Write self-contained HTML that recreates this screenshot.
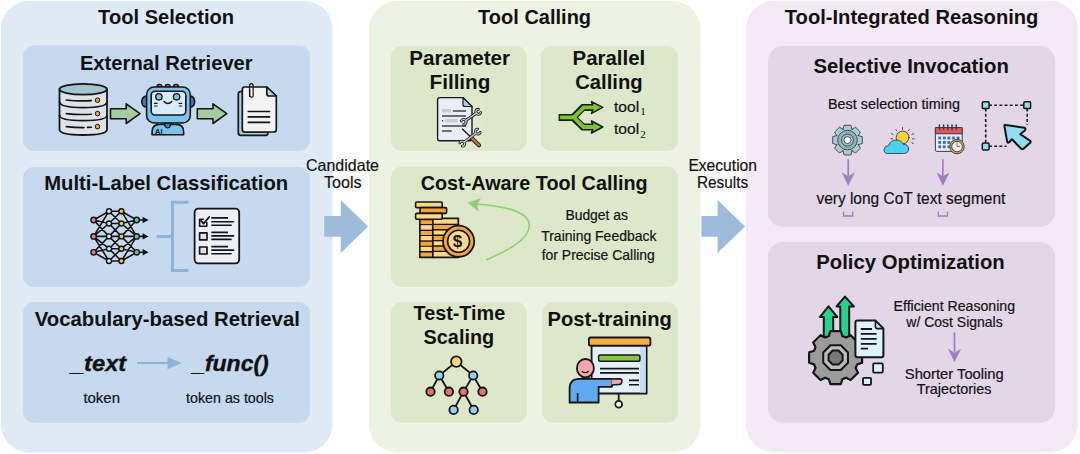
<!DOCTYPE html>
<html><head><meta charset="utf-8">
<style>
html,body{margin:0;padding:0;background:#fff;width:1080px;height:454px;overflow:hidden}
svg{display:block}
text{font-family:"Liberation Sans",sans-serif;fill:#111}
.b{font-weight:bold}
.t1{font-size:20px;font-weight:bold}
.t2{font-size:20.5px;font-weight:bold}
.r{font-size:15px;stroke:#1a1a1a;stroke-width:0.2px}
</style></head><body>
<svg width="1080" height="454" viewBox="0 0 1080 454">
<!-- panels -->
<rect x="1" y="1" width="331.5" height="451.5" rx="28" fill="#e0eaf5"/>
<rect x="369" y="1" width="331.5" height="451.5" rx="28" fill="#eef2e4"/>
<rect x="746" y="1" width="332" height="451.5" rx="28" fill="#f3e9f5"/>
<!-- blue inner -->
<rect x="23" y="45.6" width="287" height="105.4" rx="11" fill="#c6d9ef"/>
<rect x="23" y="167" width="287" height="120" rx="11" fill="#c6d9ef"/>
<rect x="23" y="302" width="287" height="120.8" rx="11" fill="#c6d9ef"/>
<!-- green inner -->
<rect x="391" y="46" width="136" height="105" rx="11" fill="#dce8c9"/>
<rect x="540.7" y="46" width="137.3" height="105" rx="11" fill="#dce8c9"/>
<rect x="391" y="166.7" width="287" height="120.3" rx="11" fill="#dce8c9"/>
<rect x="391" y="302" width="136" height="120.8" rx="11" fill="#dce8c9"/>
<rect x="542.3" y="302" width="135.7" height="120.8" rx="11" fill="#dce8c9"/>
<!-- purple inner -->
<rect x="768" y="46" width="287" height="180.8" rx="15" fill="#e2d6e7"/>
<rect x="768" y="242" width="287" height="180.8" rx="15" fill="#e2d6e7"/>

<!-- big arrows -->
<path d="M324.2 215.9 H340.8 V200 L368.1 226.5 L340.8 252.9 V236.7 H324.2 Z" fill="#9dbcdc"/>
<path d="M701.4 215.9 H717.6 V200 L745 226.5 L717.6 252.9 V236.7 H701.4 Z" fill="#9dbcdc"/>

<!-- titles -->
<text class="t1" x="98.1" y="24" textLength="136.0" lengthAdjust="spacingAndGlyphs">Tool Selection</text>
<text class="t1" x="478.1" y="24.2" textLength="113.0" lengthAdjust="spacingAndGlyphs">Tool Calling</text>
<text class="t1" x="784.8" y="23.6" textLength="253.6" lengthAdjust="spacingAndGlyphs">Tool-Integrated Reasoning</text>

<text class="t2" x="79.9" y="69.8" textLength="172.8" lengthAdjust="spacingAndGlyphs">External Retriever</text>
<text class="t2" x="44.2" y="190" textLength="244.0" lengthAdjust="spacingAndGlyphs">Multi-Label Classification</text>
<text class="t2" x="34.7" y="325.7" textLength="265.2" lengthAdjust="spacingAndGlyphs">Vocabulary-based Retrieval</text>

<text class="t2" x="409.2" y="65" textLength="100.9" lengthAdjust="spacingAndGlyphs">Parameter</text>
<text class="t2" x="429.5" y="89.4" textLength="60.9" lengthAdjust="spacingAndGlyphs">Filling</text>
<text class="t2" x="572.5" y="65" textLength="72.7" lengthAdjust="spacingAndGlyphs">Parallel</text>
<text class="t2" x="575.2" y="89.4" textLength="67.4" lengthAdjust="spacingAndGlyphs">Calling</text>
<text class="t2" x="420.7" y="189.8" textLength="226.9" lengthAdjust="spacingAndGlyphs">Cost-Aware Tool Calling</text>
<text class="t2" x="413.5" y="320" textLength="91.7" lengthAdjust="spacingAndGlyphs">Test-Time</text>
<text class="t2" x="423.6" y="344.4" textLength="70.6" lengthAdjust="spacingAndGlyphs">Scaling</text>
<text class="t2" x="547.5" y="325.8" textLength="124.3" lengthAdjust="spacingAndGlyphs">Post-training</text>

<text class="t2" x="813.5" y="72.5" textLength="195.3" lengthAdjust="spacingAndGlyphs">Selective Invocation</text>
<text class="t2" x="816.2" y="269.2" textLength="188.6" lengthAdjust="spacingAndGlyphs">Policy Optimization</text>

<!-- regular text -->
<text class="r" x="306.0" y="170.6" style="font-size:16.5px" textLength="73.0" lengthAdjust="spacingAndGlyphs">Candidate</text>
<text class="r" x="324.0" y="188.3" style="font-size:16.5px" textLength="37.5" lengthAdjust="spacingAndGlyphs">Tools</text>
<text class="r" x="688.4" y="170.6" style="font-size:16.5px" textLength="68.6" lengthAdjust="spacingAndGlyphs">Execution</text>
<text class="r" x="696.9" y="188.3" style="font-size:16.5px" textLength="51.3" lengthAdjust="spacingAndGlyphs">Results</text>

<text class="b" x="70.9" y="370.9" style="font-size:22px;font-style:italic;stroke:#111;stroke-width:0.35px" textLength="55.3" lengthAdjust="spacingAndGlyphs">_text</text>
<text class="b" x="192.2" y="370.9" style="font-size:22px;font-style:italic;stroke:#111;stroke-width:0.35px" textLength="76.5" lengthAdjust="spacingAndGlyphs">_func()</text>
<text class="r" x="83.4" y="403.2" textLength="36.6" lengthAdjust="spacingAndGlyphs">token</text>
<text class="r" x="186.1" y="403.2" textLength="87.9" lengthAdjust="spacingAndGlyphs">token as tools</text>

<text class="r" x="614.0" y="112.1" style="font-size:14px" textLength="25.2" lengthAdjust="spacingAndGlyphs">tool</text>
<text x="640.3" y="115.1" style="font-family:'Liberation Serif',serif;font-size:11px">1</text>
<text class="r" x="614.0" y="134.1" style="font-size:14px" textLength="25.2" lengthAdjust="spacingAndGlyphs">tool</text>
<text x="640.3" y="137.8" style="font-family:'Liberation Serif',serif;font-size:11px">2</text>

<text class="r" x="565.4" y="219.5" style="font-size:14.5px" textLength="62.6" lengthAdjust="spacingAndGlyphs">Budget as</text>
<text class="r" x="541.2" y="240.7" style="font-size:14.5px" textLength="115.3" lengthAdjust="spacingAndGlyphs">Training Feedback</text>
<text class="r" x="541.7" y="260" style="font-size:14.5px" textLength="113.2" lengthAdjust="spacingAndGlyphs">for Precise Calling</text>

<text class="r" x="828.0" y="108.5" style="font-size:14.5px" textLength="131.9" lengthAdjust="spacingAndGlyphs">Best selection timing</text>
<text class="r" x="816.4" y="204" style="font-size:17px" textLength="189.0" lengthAdjust="spacingAndGlyphs">very long CoT text segment</text>

<text class="r" x="893.6" y="311.2" style="font-size:14.5px" textLength="121.4" lengthAdjust="spacingAndGlyphs">Efficient Reasoning</text>
<text class="r" x="906.3" y="326.9" style="font-size:14.5px" textLength="96.4" lengthAdjust="spacingAndGlyphs">w/ Cost Signals</text>
<text class="r" x="904.8" y="378.6" style="font-size:14.5px" textLength="99.0" lengthAdjust="spacingAndGlyphs">Shorter Tooling</text>
<text class="r" x="916.8" y="393.6" style="font-size:14.5px" textLength="74.6" lengthAdjust="spacingAndGlyphs">Trajectories</text>

<!-- ICONS -->

<!-- database -->
<g stroke="#151515" stroke-width="1.8" stroke-linecap="round" stroke-linejoin="round">
<path d="M59.5 89 V129.5 Q59.5 135 83.2 135 Q107 135 107 129.5 V89 Z" fill="#dde4e8"/>
<ellipse cx="83.2" cy="89.2" rx="23.7" ry="5.4" fill="#a4c3cf"/>
<path d="M59.5 102 Q60 107.6 83.2 107.6 Q106.5 107.6 107 102" fill="none"/>
<path d="M59.5 115.5 Q60 120.6 83.2 120.6 Q106.5 120.6 107 115.5" fill="none"/>
<path d="M66.3 100 Q78 101.4 91.4 100.6" fill="none" stroke-width="1.6"/>
<path d="M66.3 113.6 Q78 115 91.4 114.2" fill="none" stroke-width="1.6"/>
<path d="M66.3 126.6 Q74 127.6 84 127.6 M87.5 127.4 L91.4 127.2" fill="none" stroke-width="1.6"/>
</g>
<g fill="#f59b2b" stroke="#151515" stroke-width="1">
<circle cx="97.5" cy="100.2" r="2.3"/><circle cx="97.5" cy="113.6" r="2.3"/><circle cx="97.5" cy="126.6" r="2.3"/>
</g>
<!-- green arrows -->
<path d="M110.5 108.7 H126.2 V103.9 L140 113.7 L126.2 123.5 V118.7 H110.5 Z" fill="#a9cba3" stroke="#151515" stroke-width="1.6" stroke-linejoin="round"/>
<path d="M197.3 108.7 H213 V103.9 L226.8 113.7 L213 123.5 V118.7 H197.3 Z" fill="#a9cba3" stroke="#151515" stroke-width="1.6" stroke-linejoin="round"/>
<!-- robot -->
<g stroke="#151515" stroke-width="1.6" stroke-linejoin="round">
<circle cx="159.4" cy="86.9" r="2.6" fill="#d9434a" stroke-width="1.2"/>
<circle cx="167.7" cy="86.9" r="2.6" fill="#d9434a" stroke-width="1.2"/>
<circle cx="176" cy="86.9" r="2.6" fill="#d9434a" stroke-width="1.2"/>
<path d="M147 96 Q141.8 96.5 141.8 101.5 Q141.8 107 147 107.3 Z" fill="#3b7eb8"/>
<path d="M190 96 Q194.6 96.5 194.6 101.5 Q194.6 107 190 107.3 Z" fill="#3b7eb8"/>
<rect x="146.6" y="87" width="43.7" height="36" rx="7.5" fill="#7ac4ec"/>
<rect x="151.2" y="91.2" width="34.6" height="23.8" rx="4" fill="#d8ecfa"/>
<circle cx="158.9" cy="96.8" r="3.2" fill="#7ac4ec" stroke-width="1.3"/>
<circle cx="176.6" cy="96.8" r="3.2" fill="#7ac4ec" stroke-width="1.3"/>
<path d="M164 101.5 Q167.9 105.5 171.8 101.5" fill="none" stroke-width="1.3" stroke-linecap="round"/>
<path d="M154 103.4 H157.6 M154 106 H157.6 M178.6 103.4 H182.2 M178.6 106 H182.2" stroke-width="1.1"/>
<path d="M152.1 134.8 V131.5 Q152.1 124.6 160 124.4 H176 Q183.6 124.6 183.6 131.5 V134.8 Z" fill="#7ac4ec"/>
<path d="M164.6 123.2 Q164.6 127.8 167.6 127.8 Q170.6 127.8 170.6 123.2 Z" fill="#3b7eb8" stroke-width="1.2"/>
</g>
<text x="155" y="134.3" style="font-size:7.5px;font-weight:bold;fill:#151515">AI</text>
<!-- documents stack -->
<g stroke="#151515" stroke-width="1.7" stroke-linejoin="round">
<path d="M238.3 94 Q238.3 91.5 240.8 91.5 H245 V132 H268 V133 Q268 135.3 265.5 135.3 H240.8 Q238.3 135.3 238.3 132.8 Z" fill="#a8cfd6"/>
<path d="M242.3 89.5 Q242.3 87 244.8 87 H266.8 L276.3 96 V129.5 Q276.3 132 273.8 132 H244.8 Q242.3 132 242.3 129.5 Z" fill="#f3f3f3"/>
<path d="M266.8 87 V93.5 Q266.8 96 269.3 96 H276.3 Z" fill="#b3d7df"/>
<path d="M247.6 111.5 H270.2 M247.6 116.9 H270.2 M247.6 122.4 H270.2" stroke-width="1.6"/>
<path d="M249.5 97 V86.2 Q249.5 83.6 251.3 83.6 Q253.2 83.6 253.2 86.2 V95.5 Q253.2 97.2 251.5 97.2 Q249.8 97.2 249.8 95.5 V89" fill="none" stroke-width="1.2"/>
</g>

<g stroke="#151515" stroke-width="1.6" fill="none"><path d="M93.6 220 L109 211.2 M93.6 220 L109 223.5 M93.6 220 L109 236.4 M93.6 236.4 L109 211.2 M93.6 236.4 L109 223.5 M93.6 236.4 L109 236.4 M93.6 236.4 L109 248.7 M93.6 236.4 L109 261 M93.6 252.3 L109 236.4 M93.6 252.3 L109 248.7 M93.6 252.3 L109 261 M109 211.2 L121.4 211.2 M109 211.2 L121.4 223.5 M109 223.5 L121.4 211.2 M109 223.5 L121.4 223.5 M109 223.5 L121.4 236.4 M109 236.4 L121.4 223.5 M109 236.4 L121.4 236.4 M109 236.4 L121.4 248.7 M109 248.7 L121.4 236.4 M109 248.7 L121.4 248.7 M109 248.7 L121.4 261 M109 261 L121.4 248.7 M109 261 L121.4 261 M121.4 211.2 L136.7 220 M121.4 211.2 L136.7 236.4 M121.4 223.5 L136.7 220 M121.4 223.5 L136.7 236.4 M121.4 236.4 L136.7 220 M121.4 236.4 L136.7 236.4 M121.4 236.4 L136.7 252.3 M121.4 248.7 L136.7 236.4 M121.4 248.7 L136.7 252.3 M121.4 261 L136.7 236.4 M121.4 261 L136.7 252.3 M136.7 220 H145.5 M136.7 236.4 H145.5 M136.7 252.3 H145.5"/></g>
<g fill="#151515"><path d="M142.6 216.8 L148.6 220 L142.6 223.2 Z"/><path d="M142.6 233.2 L148.6 236.4 L142.6 239.6 Z"/><path d="M142.6 249.1 L148.6 252.3 L142.6 255.5 Z"/></g>
<g stroke="#151515" stroke-width="1.4"><circle cx="93.6" cy="220" r="2.7" fill="#f07a7a"/><circle cx="93.6" cy="236.4" r="2.7" fill="#f07a7a"/><circle cx="93.6" cy="252.3" r="2.7" fill="#f07a7a"/><circle cx="109" cy="211.2" r="2.5" fill="#d6f1f4"/><circle cx="109" cy="223.5" r="2.5" fill="#d6f1f4"/><circle cx="109" cy="236.4" r="2.5" fill="#d6f1f4"/><circle cx="109" cy="248.7" r="2.5" fill="#d6f1f4"/><circle cx="109" cy="261" r="2.5" fill="#d6f1f4"/><circle cx="121.4" cy="211.2" r="2.5" fill="#f6c640"/><circle cx="121.4" cy="223.5" r="2.5" fill="#f6c640"/><circle cx="121.4" cy="236.4" r="2.5" fill="#f6c640"/><circle cx="121.4" cy="248.7" r="2.5" fill="#f6c640"/><circle cx="121.4" cy="261" r="2.5" fill="#f6c640"/><circle cx="136.7" cy="220" r="2.7" fill="#5bc887"/><circle cx="136.7" cy="236.4" r="2.7" fill="#5bc887"/><circle cx="136.7" cy="252.3" r="2.7" fill="#5bc887"/></g>

<!-- bracket -->
<path d="M156.6 236.4 H172.5 M188.4 202.3 H172.5 V270.5 H188.4" fill="none" stroke="#8db3d9" stroke-width="3"/>
<!-- checklist -->
<g stroke="#151515" stroke-linejoin="round">
<rect x="194.6" y="208.6" width="44.6" height="54.8" rx="3.8" fill="#edf0fa" stroke-width="1.8"/>
<path d="M206.8 222 V226.2 H199.6 V219.3 H203.8" fill="#dfe3f0" stroke-width="1.6"/>
<rect x="199.6" y="232.9" width="7.4" height="7" fill="#dfe3f0" stroke-width="1.7"/>
<rect x="199.6" y="247" width="7.4" height="7" fill="#dfe3f0" stroke-width="1.7"/>
<path d="M201.2 220.8 L203.6 223.6 L209.2 217" fill="none" stroke-width="1.8" stroke-linecap="round"/>
<path d="M211.3 217.9 H228 M211.3 221.8 H234.2 M211.3 225.3 H231.6 M211.3 232.4 H228 M211.3 235.9 H234.2 M211.3 239.4 H231.6 M211.3 246.6 H228 M211.3 250.1 H234.2 M211.3 253.7 H231.6" fill="none" stroke-width="1.6"/>
</g>
<!-- token arrow -->
<path d="M137 363 H170" stroke="#8db3d9" stroke-width="2"/>
<path d="M167.5 357 L181.4 363 L167.5 369.2 Z" fill="#8db3d9"/>


<!-- param doc -->
<rect x="435" y="95" width="49" height="53" fill="#dfe9d3" opacity="0.5"/>
<g stroke="#1a1a1a" stroke-linejoin="round">
<path d="M439.8 97.6 H463 L472 106.5 V138.6 Q472 140.8 469.8 140.8 H439.8 Q437.6 140.8 437.6 138.6 V99.8 Q437.6 97.6 439.8 97.6 Z" fill="#e9edf5" stroke-width="1.4"/>
<path d="M463 97.6 V104.5 Q463 106.5 465 106.5 H472 Z" fill="#a7d0e8" stroke-width="1.2"/>
</g>
<g fill="#c9cfd8"><rect x="442" y="109" width="9" height="3.4"/><rect x="445" y="119" width="13" height="3.4"/></g>
<path d="M453 111 H466 M442 116 H466 M442 120.7 H443.2 M442 126 H466 M442 131 H451.7" stroke="#40454c" stroke-width="1.4"/>
<g>
<path d="M462.1 128.8 L471 137.2" stroke="#1a1a1a" stroke-width="1.5" fill="none"/>
<path d="M471 137.4 L479 145.2" stroke="#1a1a1a" stroke-width="4.2" stroke-linecap="round"/>
<path d="M471 137.4 L479 145.2" stroke="#c47036" stroke-width="2.4" stroke-linecap="round"/>
<path d="M465.69 120.52 L476.31 113.18" stroke="#1a1a1a" stroke-width="3" stroke-linecap="round" fill="none"/><path d="M461.29 121.08 A2.5 2.5 0 1 1 463.62 124.45 M480.71 112.62 A2.5 2.5 0 1 1 478.38 109.25" stroke="#1a1a1a" stroke-width="2.8" fill="none" stroke-linecap="round"/><path d="M465.69 120.52 L476.31 113.18" stroke="#bcc6d0" stroke-width="1.4" stroke-linecap="round" fill="none"/><path d="M461.29 121.08 A2.5 2.5 0 1 1 463.62 124.45 M480.71 112.62 A2.5 2.5 0 1 1 478.38 109.25" stroke="#bcc6d0" stroke-width="1.2" fill="none" stroke-linecap="round"/>
<path d="M464.17 142.16 L475.83 133.14" stroke="#1a1a1a" stroke-width="3" stroke-linecap="round" fill="none"/><path d="M459.80 142.94 A2.5 2.5 0 1 1 462.30 146.18 M480.20 132.36 A2.5 2.5 0 1 1 477.70 129.12" stroke="#1a1a1a" stroke-width="2.8" fill="none" stroke-linecap="round"/><path d="M464.17 142.16 L475.83 133.14" stroke="#bcc6d0" stroke-width="1.4" stroke-linecap="round" fill="none"/><path d="M459.80 142.94 A2.5 2.5 0 1 1 462.30 146.18 M480.20 132.36 A2.5 2.5 0 1 1 477.70 129.12" stroke="#bcc6d0" stroke-width="1.2" fill="none" stroke-linecap="round"/>
</g>
<!-- parallel arrows -->
<g fill="none" stroke-linejoin="miter">
<path d="M558.6 117.4 H573.2 L583 107.4 H594 M573.2 117.4 L583 127 H594" stroke="#1a1a1a" stroke-width="7"/>
</g>
<g fill="#7cc823" stroke="#1a1a1a" stroke-width="1.6" stroke-linejoin="round">
<path d="M591.5 101.6 L602.8 107.4 L591.5 113.4 L593.4 107.4 Z"/>
<path d="M591.5 121 L602.8 127 L591.5 133 L593.4 127 Z"/>
</g>
<path d="M560.1 117.4 H573.8 L583.6 107.4 H595 M573.8 117.4 L583.6 127 H595" fill="none" stroke="#7cc823" stroke-width="3.8" stroke-linejoin="miter"/>
<!-- coins -->
<g stroke="#151515" stroke-width="1.6" stroke-linejoin="round">
<rect x="419.8" y="219.4" width="13" height="38" fill="#f5a436"/>
<path d="M419.8 224.8 H432.8 M419.8 230.2 H432.8 M419.8 235.6 H432.8 M419.8 241 H432.8 M419.8 246.4 H432.8 M419.8 251.8 H432.8" stroke-width="1.4"/>
<rect x="421.2" y="225.2" width="10.4" height="4.2" fill="#fbd98a" stroke="none"/>
<rect x="421.2" y="236" width="10.4" height="4.2" fill="#fbd98a" stroke="none"/>
<rect x="421.2" y="246.8" width="10.4" height="4.2" fill="#fbd98a" stroke="none"/>
<rect x="432.8" y="218.4" width="25.6" height="39" fill="#f5a436"/>
<rect x="434" y="219.6" width="23" height="4.2" fill="#fbd98a" stroke="none"/>
<rect x="434" y="230.4" width="23" height="4.2" fill="#fbd98a" stroke="none"/>
<rect x="434" y="241.2" width="23" height="4.2" fill="#fbd98a" stroke="none"/>
<rect x="434" y="252" width="23" height="4.2" fill="#fbd98a" stroke="none"/>
<path d="M432.8 224.4 H458 M432.8 229.8 H458 M432.8 235.2 H458 M432.8 240.6 H458 M432.8 246 H458 M432.8 251.4 H458" stroke-width="1.4"/>
<rect x="415.6" y="202" width="26.6" height="5.6" rx="1.2" fill="#fbd98a"/>
<rect x="420" y="207.6" width="26.6" height="5.8" rx="1.2" fill="#f5a436"/>
<rect x="415.6" y="213.4" width="26.6" height="5.8" rx="1.2" fill="#fbd98a"/>
<circle cx="458.6" cy="241.3" r="15.6" fill="#f5a436" stroke-width="1.8"/>
<circle cx="458.6" cy="241.3" r="11" fill="#fcd98b" stroke-width="1.6"/>
</g>
<text x="452.8" y="247.3" style="font-size:17px;font-weight:bold;fill:#151515">$</text>
<!-- curved green arrow -->
<path d="M486.3 259.8 Q534 240 528.7 222 Q524 207 474 204" fill="none" stroke="#8ecf71" stroke-width="1.6"/>
<path d="M467.4 202.8 L481 198.3 L477.2 204.3 L478.6 211.4 Z" fill="#8ecf71"/>
<!-- tree -->
<g stroke="#151515" stroke-width="1.8">
<path d="M456.3 361.6 L439.3 375.5 M456.3 361.6 L473.2 375.5 M439.3 375.5 L430.5 391.7 M439.3 375.5 L448.9 391.7 M473.2 375.5 L463.5 391.7 M473.2 375.5 L482.5 391.7 M463.5 391.7 L453.6 409.9 M463.5 391.7 L473.7 409.9" fill="none"/>
<circle cx="456.3" cy="361.6" r="5.3" fill="#f8d67c"/>
<circle cx="439.3" cy="375.5" r="4.2" fill="#8fd2f2"/>
<circle cx="473.2" cy="375.5" r="4.2" fill="#8fd2f2"/>
<circle cx="430.5" cy="391.7" r="4.2" fill="#e07474"/>
<circle cx="448.9" cy="391.7" r="4.2" fill="#e07474"/>
<circle cx="463.5" cy="391.7" r="4.2" fill="#e07474"/>
<circle cx="482.5" cy="391.7" r="4.2" fill="#e07474"/>
<circle cx="453.6" cy="409.9" r="4.2" fill="#8fd2f2"/>
<circle cx="473.7" cy="409.9" r="4.2" fill="#8fd2f2"/>
</g>
<!-- presentation -->
<g stroke="#151515" stroke-width="1.8" stroke-linejoin="round">
<path d="M618.7 393.6 V400.5" fill="none"/>
<circle cx="618.7" cy="404.3" r="3.4" fill="#ffffff"/>
<rect x="591.6" y="345.7" width="55" height="47.8" fill="#e4effb"/>
<rect x="640" y="347" width="5.6" height="45.5" fill="#c4dcf6" stroke="none"/>
<rect x="588.9" y="337.5" width="61.5" height="8.2" rx="1.8" fill="#fbaf3a"/>
<rect x="598.6" y="355" width="41.3" height="6.2" rx="1.5" fill="#8bc43f" stroke-width="1.5"/>
<path d="M600 368.6 H639 M600 372.9 H639 M629 380.4 H639 M629 384.8 H639" fill="none" stroke-width="1.6"/>
<path d="M582.4 376 V383.5 Q585.6 386 588.8 383.5 V376 Z" fill="#e0606e" stroke-width="1.4"/>
<path d="M569.6 402.5 V388.5 Q569.6 378.8 579.2 378.8 H612 V386.8 H598.6 V402.5 Z" fill="#62aaf0"/>
<path d="M611.5 379 L619.5 378.8 Q622.4 379 622 381.6 Q621.4 384.6 619 384.6 L611.5 385" fill="#f7a6ae" stroke-width="1.5"/>
<ellipse cx="585.4" cy="368.2" rx="8.5" ry="9.2" fill="#f7a6ae"/>
<path d="M581.8 371.2 Q585.2 374 588.6 371.2" fill="none" stroke-width="1.3"/>
<path d="M577.6 402.5 V393" fill="none" stroke-width="1.6"/>
</g>


<!-- gear -->
<g stroke="#3a3f44" stroke-width="0.9" stroke-linejoin="round">
<path d="M842.90 129.67 L844.10 125.29 L850.90 125.29 L852.10 129.67 L851.62 129.47 L855.57 127.22 L860.38 132.03 L858.13 135.98 L857.93 135.50 L862.31 136.70 L862.31 143.50 L857.93 144.70 L858.13 144.22 L860.38 148.17 L855.57 152.98 L851.62 150.73 L852.10 150.53 L850.90 154.91 L844.10 154.91 L842.90 150.53 L843.38 150.73 L839.43 152.98 L834.62 148.17 L836.87 144.22 L837.07 144.70 L832.69 143.50 L832.69 136.70 L837.07 135.50 L836.87 135.98 L834.62 132.03 L839.43 127.22 L843.38 129.47 Z" fill="#a9cdd6"/>
<circle cx="847.5" cy="140.1" r="9.8" fill="#8fb2bb"/>
<circle cx="847.5" cy="140.1" r="6" fill="#a3c6cf"/>
<circle cx="847.5" cy="140.1" r="3.5" fill="#ffffff"/>
</g>
<!-- weather -->
<g stroke="#3a3f44" stroke-width="0.9" stroke-linecap="round">
<path d="M902.5 127.5 V129.3 M895.8 129.6 L896.8 131 M909.2 129.6 L908.2 131 M891.4 133.6 L893 134.5 M913.6 133.6 L912 134.5 M890.8 138.8 H892.6 M914.2 138.8 H912.4 M913.4 143.6 L911.8 142.8" fill="none"/>
<circle cx="902.6" cy="137.5" r="6.4" fill="#fdd33a"/>
<path d="M887.5 153.5 Q883.8 153.4 884 149.6 Q884.4 146 888.6 145.6 Q890.2 140.2 896 140 Q901.4 140 903.4 144.4 Q908.6 144.2 908.6 149 Q908.4 153.4 904 153.5 Z" fill="#48d1f2"/>
</g>
<!-- calendar -->
<g stroke="#3a3f44" stroke-width="1" stroke-linejoin="round">
<rect x="935.4" y="127.6" width="26.8" height="23.8" rx="1.5" fill="#e9ecf2"/>
<rect x="935.4" y="127.6" width="26.8" height="6.2" fill="#e9545a"/>
<path d="M939.4 125 V129.6 M943.6 125 V129.6 M947.8 125 V129.6 M952 125 V129.6 M956.2 125 V129.6" stroke-width="1.5" stroke-linecap="round"/>
</g>
<g fill="#2f6fd0">
<rect x="938.3" y="136.6" width="2.8" height="2.8"/><rect x="938.3" y="141.0" width="2.8" height="2.8"/><rect x="938.3" y="145.4" width="2.8" height="2.8"/><rect x="942.9" y="136.6" width="2.8" height="2.8"/><rect x="942.9" y="141.0" width="2.8" height="2.8"/><rect x="942.9" y="145.4" width="2.8" height="2.8"/><rect x="947.5" y="136.6" width="2.8" height="2.8"/><rect x="947.5" y="141.0" width="2.8" height="2.8"/><rect x="947.5" y="145.4" width="2.8" height="2.8"/><rect x="952.1" y="136.6" width="2.8" height="2.8"/><rect x="952.1" y="141.0" width="2.8" height="2.8"/><rect x="952.1" y="145.4" width="2.8" height="2.8"/><rect x="956.7" y="136.6" width="2.8" height="2.8"/><rect x="956.7" y="141.0" width="2.8" height="2.8"/><rect x="956.7" y="145.4" width="2.8" height="2.8"/>
</g>
<g stroke="#3a3f44" stroke-width="1">
<circle cx="957" cy="146.6" r="7.2" fill="#e7b52f"/>
<circle cx="957" cy="146.6" r="5.3" fill="#f3f3f6"/>
<path d="M957 142.8 V146.6 H960" fill="none" stroke="#c0392b" stroke-width="0.9"/>
</g>
<!-- selection -->
<path d="M989 105.2 H1023.6 M985.7 108.6 V143 M1027.2 108.6 V125 M989 146.3 H1006.5" fill="none" stroke="#151515" stroke-width="1.6" stroke-dasharray="2.9 2.3"/>
<g fill="#8fdff3" stroke="#151515" stroke-width="1.5">
<rect x="982.3" y="101.8" width="6.8" height="6.8" rx="1.2"/>
<rect x="1023.8" y="101.8" width="6.8" height="6.8" rx="1.2"/>
<rect x="982.3" y="143.1" width="6.8" height="6.8" rx="1.2"/>
</g>
<path d="M1005.6 124.9 Q1004 124.6 1004.4 126.3 L1007.2 141.6 Q1007.8 143.5 1009.4 142 L1012 139.2 L1021.2 148.8 Q1022.4 149.8 1023.5 148.8 L1030.2 142.8 Q1031.2 141.8 1030.2 140.8 L1020.2 134.2 L1024.8 130.4 Q1026.4 128.6 1024.4 127.8 Z" fill="#8fdff3" stroke="#151515" stroke-width="2" stroke-linejoin="round"/>
<!-- purple arrows -->
<g stroke="#a47cc4" stroke-width="1.7" fill="none">
<path d="M848.2 159.3 V176"/><path d="M942.9 159.3 V176"/>
<path d="M954.5 332.4 V352"/>
</g>
<g fill="#a47cc4">
<path d="M841.8 172.4 L848.2 185.8 L854.8 172.4 L848.2 176.2 Z"/>
<path d="M936.5 172.4 L942.9 185.8 L949.5 172.4 L942.9 176.2 Z"/>
<path d="M947.9 348.8 L954.5 362.1 L961.1 348.8 L954.5 352.8 Z"/>
</g>
<path d="M843.6 211.4 V216 H852.8 V211.4 M938.3 211.4 V216 H947.5 V211.4" fill="none" stroke="#a47cc4" stroke-width="1.3"/>
<!-- policy icon -->
<g stroke="#151515" stroke-width="2" stroke-linejoin="round">
<path d="M823.8 338 V317.1 H819.8 L828.5 306.3 L837.4 317.1 H833.2 V338 Z" fill="#22d48c"/>
<path d="M840.3 338 V306.5 H836.5 L845 296.6 L853.9 306.5 H849.2 V338 Z" fill="#22d48c"/>
<path d="M828.80 336.05 L830.40 331.11 L840.80 331.11 L842.40 336.05 L846.03 337.55 L850.66 335.19 L858.01 342.54 L855.65 347.17 L857.15 350.80 L862.09 352.40 L862.09 362.80 L857.15 364.40 L855.65 368.03 L858.01 372.66 L850.66 380.01 L846.03 377.65 L842.40 379.15 L840.80 384.09 L830.40 384.09 L828.80 379.15 L825.17 377.65 L820.54 380.01 L813.19 372.66 L815.55 368.03 L814.05 364.40 L809.11 362.80 L809.11 352.40 L814.05 350.80 L815.55 347.17 L813.19 342.54 L820.54 335.19 L825.17 337.55 Z" fill="#9c9c9c" stroke-width="2.2"/>
<path d="M847.98 362.73 L840.73 369.98 L830.47 369.98 L823.22 362.73 L823.22 352.47 L830.47 345.22 L840.73 345.22 L847.98 352.47 Z" fill="#bdbdbd" stroke-width="2"/>
<path d="M842.62 360.51 L838.51 364.62 L832.69 364.62 L828.58 360.51 L828.58 354.69 L832.69 350.58 L838.51 350.58 L842.62 354.69 Z" fill="#787878" stroke-width="2"/>
<path d="M855.4 322.6 Q855.4 320.6 857.4 320.6 H875.4 L883.4 328.6 V355.2 Q883.4 357.2 881.4 357.2 H857.4 Q855.4 357.2 855.4 355.2 Z" fill="#dff2fa"/>
<path d="M875.4 320.6 V326.6 Q875.4 328.6 877.4 328.6 H883.4 Z" fill="#c3e3f2" stroke-width="1.6"/>
<path d="M860.8 329 H872 M860.8 333.9 H876.6 M860.8 338.9 H876.6 M860.8 343.9 H876.6 M860.8 348.6 H868" fill="none" stroke-width="1.8"/>
<rect x="873.2" y="363.4" width="9.6" height="9.2" rx="1" fill="#dff2fa" stroke-width="1.8"/>
<rect x="863" y="377.8" width="8" height="7" rx="1" fill="#dff2fa" stroke-width="1.8"/>
</g>
<!-- ICONS2 -->
</svg>
</body></html>
